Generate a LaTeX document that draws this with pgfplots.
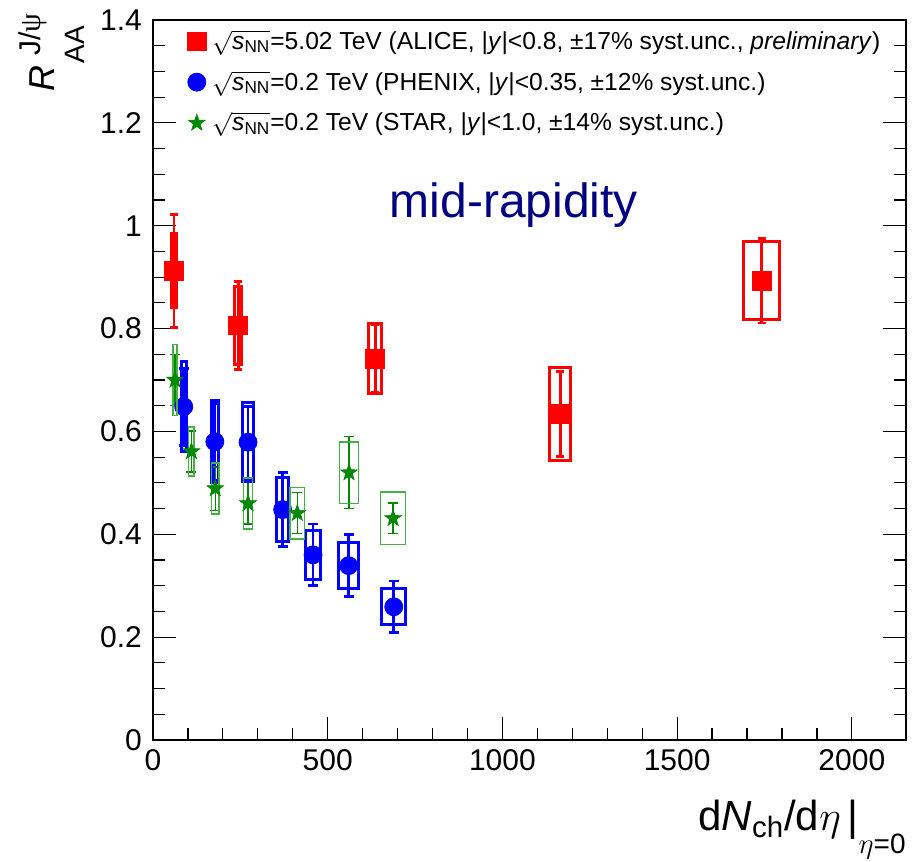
\documentclass[border=0pt]{standalone}
\usepackage{amsmath}
\usepackage{graphicx}
\usepackage{fontspec}
\setmainfont{Liberation Sans}
\newfontfamily\grk{Liberation Serif}
\usepackage{pgfplots}
\usepackage{pgfplotstable}
\pgfplotsset{compat=1.18}

\definecolor{alicered}{RGB}{255,0,0}
\definecolor{phenixblue}{RGB}{0,0,255}
\definecolor{stargreen}{RGB}{0,136,0}
\definecolor{starbox}{RGB}{70,175,70}
\definecolor{navy}{RGB}{0,0,128}

% nothing drawn: only the scatter code (the syst. box) is used
\pgfdeclareplotmark{empty}{}
% filled five-pointed star
\pgfdeclareplotmark{fstar}{%
  \pgfpathmoveto{\pgfpointpolar{90}{\pgfplotmarksize}}%
  \pgfpathlineto{\pgfpointpolar{126}{0.4\pgfplotmarksize}}%
  \pgfpathlineto{\pgfpointpolar{162}{\pgfplotmarksize}}%
  \pgfpathlineto{\pgfpointpolar{198}{0.4\pgfplotmarksize}}%
  \pgfpathlineto{\pgfpointpolar{234}{\pgfplotmarksize}}%
  \pgfpathlineto{\pgfpointpolar{270}{0.4\pgfplotmarksize}}%
  \pgfpathlineto{\pgfpointpolar{306}{\pgfplotmarksize}}%
  \pgfpathlineto{\pgfpointpolar{342}{0.4\pgfplotmarksize}}%
  \pgfpathlineto{\pgfpointpolar{18}{\pgfplotmarksize}}%
  \pgfpathlineto{\pgfpointpolar{54}{0.4\pgfplotmarksize}}%
  \pgfpathclose
  \pgfusepathqfillstroke
}

% x: dNch/deta, y: RAA, sx: box half width, sy: syst., ey: stat.
\pgfplotstableread{
x    y     sx  sy     ey
60   0.912 7   0.072  0.110
244  0.806 10  0.075  0.085
636  0.741 19  0.068  0.066
1166 0.634 30  0.091  0.082
1742 0.893 51  0.076  0.082
}\alicedata

\pgfplotstableread{
x    y     sx  sy     ey
88   0.648 7   0.088  0.075
177  0.580 11  0.075  0.080
272  0.579 16  0.077  0.070
371  0.448 17  0.062  0.072
458  0.360 21  0.047  0.060
560  0.339 28  0.045  0.060
689  0.259 34  0.035  0.050
}\phenixdata

\pgfplotstableread{
x    y     sx  sy     ey
63   0.700 6   0.069  0.049
110  0.561 8   0.048  0.040
178  0.489 11  0.050  0.042
272  0.460 13  0.050  0.040
413  0.441 21  0.050  0.040
561  0.520 27  0.060  0.070
687  0.431 36  0.051  0.030
}\stardata

\pgfplotsset{
  sysbox/.style={forget plot, only marks, mark=empty, scatter, point meta=y,
    visualization depends on={\thisrow{sx}\as\boxhx},
    visualization depends on={\thisrow{sy}\as\boxhy},
    scatter/@pre marker code/.code={%
      \begin{scope}[#1]
      \pgfmathsetmacro\boxnx{-\boxhx}%
      \pgfmathsetmacro\boxny{-\boxhy}%
      \pgfpathrectanglecorners{\pgfplotspointaxisdirectionxy{\boxnx}{\boxny}}%
        {\pgfplotspointaxisdirectionxy{\boxhx}{\boxhy}}%
      \pgfusepath{stroke}%
      \end{scope}},
    scatter/@post marker code/.code={}},
  staterr/.style={only marks,
    error bars/y dir=both, error bars/y explicit,
    error bars/error bar style={#1}},
}

\begin{document}
\begin{tikzpicture}
\begin{axis}[
  scale only axis, width=376.5pt, height=360pt, clip=false,
  xmin=0, xmax=2155, ymin=0, ymax=1.4,
  xtick={0,500,1000,1500,2000}, minor x tick num=4,
  ytick={0,0.2,0.4,0.6,0.8,1,1.2,1.4}, minor y tick num=3,
  xtick pos=left, ytick pos=both, yticklabel pos=left,
  tick align=inside, major tick length=11.5pt, minor tick length=6pt,
  tick style={black, line width=0.6pt},
  axis line style={line width=0.8pt},
  /pgf/number format/1000 sep={},
  /pgf/number format/assume math mode=true,
  tick label style={font=\fontsize{15}{18}\selectfont},
  yticklabel style={xshift=-2pt},
  xticklabel style={yshift=-1pt},
  legend style={at={(rel axis cs:0,1)}, anchor=north west, xshift=17pt, yshift=-3pt,
    draw=none, fill=none, font=\fontsize{12.3}{15}\selectfont, row sep=5.5pt,
    inner sep=0pt, nodes={inner xsep=3pt}},
  legend cell align=left,
  legend image code/.code={\draw[#1] plot coordinates {(0cm,0cm)};},
]

% ALICE
\addplot[sysbox={draw=alicered, line width=1.5pt}] table[x=x, y=y] {\alicedata};
\addplot[staterr={alicered, line width=1.4pt}, mark=square*, mark size=4.7pt,
  color=alicered, mark options={solid, line width=0.4pt},
  error bars/error mark options={alicered, line width=1.4pt, mark size=2pt, rotate=90}]
  table[x=x, y=y, y error=ey] {\alicedata};
\addlegendentry{$\sqrt{\textit{s}_{\text{NN}}}$=5.02 TeV (ALICE, |\textit{y}|<0.8, ±17\% syst.unc., \textit{preliminary})}

% PHENIX
\addplot[sysbox={draw=phenixblue, line width=1.5pt}] table[x=x, y=y] {\phenixdata};
\addplot[staterr={phenixblue, line width=1.4pt}, mark=*, mark size=4.5pt,
  color=phenixblue, mark options={solid, line width=0.4pt},
  error bars/error mark options={phenixblue, line width=1.4pt, mark size=2.5pt, rotate=90}]
  table[x=x, y=y, y error=ey] {\phenixdata};
\addlegendentry{$\sqrt{\textit{s}_{\text{NN}}}$=0.2 TeV (PHENIX, |\textit{y}|<0.35, ±12\% syst.unc.)}

% STAR
\addplot[sysbox={draw=starbox, line width=0.8pt}] table[x=x, y=y] {\stardata};
\addplot[staterr={stargreen, line width=0.6pt}, mark=fstar, mark size=4.4pt,
  color=stargreen, mark options={solid, line width=0.3pt},
  error bars/error mark options={stargreen, line width=0.6pt, mark size=2.5pt, rotate=90}]
  table[x=x, y=y, y error=ey] {\stardata};
\addlegendentry{$\sqrt{\textit{s}_{\text{NN}}}$=0.2 TeV (STAR, |\textit{y}|<1.0, ±14\% syst.unc.)}

\node[navy, font=\fontsize{24}{28}\selectfont] at (axis cs:1033,1.04) {mid-rapidity};

\coordinate (sw) at (rel axis cs:0,0);
\coordinate (ne) at (rel axis cs:1,1);
\coordinate (ytitle) at (rel axis cs:0,1);
\coordinate (xtitle) at (rel axis cs:1,0);
\end{axis}

% y title, ROOT-like: big scripts, the subscript set well below
\node[anchor=north east, inner sep=0pt, font=\fontsize{18}{22}\selectfont]
  at ([xshift=-34pt, yshift=3.5pt]ytitle) {\rotatebox{90}{\textit{R}\hspace{1pt}\rlap{\raisebox{-15pt}{\fontsize{14}{16}\selectfont AA}}\hspace{4pt}\raisebox{7pt}{\fontsize{15}{17}\selectfont J/{\grk ψ}}}};

\node[anchor=base east, inner sep=0pt, font=\fontsize{21}{25}\selectfont]
  at ([yshift=-45pt]xtitle) {d\textit{N}\textsubscript{ch}/d$\eta$\,|\raisebox{-0.55em}{\fontsize{14}{16}\selectfont $\eta$=0}};

\pgfresetboundingbox
\path[use as bounding box] ([shift={(-76.5pt,-60.5pt)}]sw) rectangle ([shift={(3.5pt,10pt)}]ne);
\end{tikzpicture}
\end{document}
